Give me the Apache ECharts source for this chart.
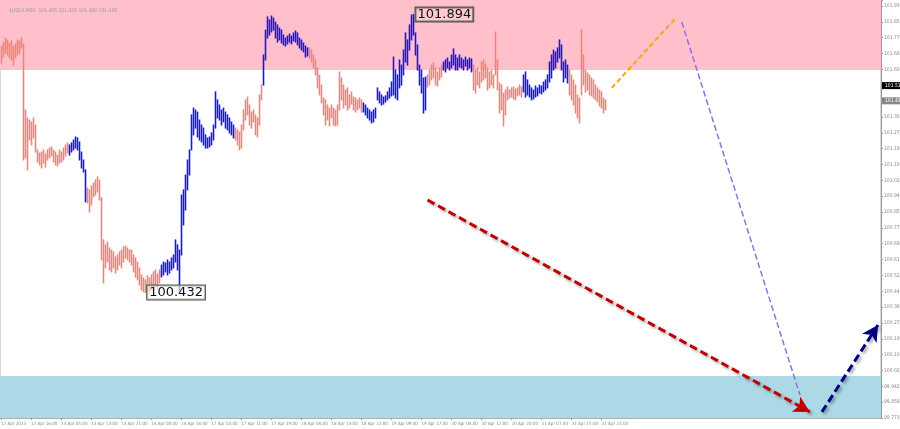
<!DOCTYPE html>
<html>
<head>
<meta charset="utf-8">
<script src="https://cdn.jsdelivr.net/npm/echarts@6/dist/echarts.min.js"></script>
<style>
  html, body { margin: 0; padding: 0; background: #fff; }
  #chart { width: 900px; height: 429px; }
</style>
</head>
<body>
<div id="chart"></div>
<script>
// time labels, one every 15 bars
const timeLabels = ['12 Apr 2023', '12 Apr 16:00', '13 Apr 05:00', '13 Apr 13:00', '13 Apr 21:00',
  '14 Apr 08:00', '14 Apr 16:00', '17 Apr 03:00', '17 Apr 11:00', '17 Apr 19:00', '18 Apr 06:00',
  '18 Apr 14:00', '18 Apr 22:00', '19 Apr 09:00', '19 Apr 17:00', '20 Apr 04:00', '20 Apr 12:00',
  '20 Apr 20:00', '21 Apr 07:00', '21 Apr 15:00', '21 Apr 23:00'];

// price scale labels, bottom to top
const priceLabels = ['99.773', '99.858', '99.942', '100.023', '100.108', '100.193', '100.278', '100.363',
  '100.443', '100.528', '100.613', '100.693', '100.778', '100.858', '100.943', '101.028', '101.108',
  '101.193', '101.273', '101.358', '101.438', '101.523', '101.608', '101.688', '101.773', '101.858', '101.938'];

// bar highs / lows (M30)
const highs = [
  101.728, 101.749, 101.770, 101.760, 101.744, 101.755, 101.728, 101.739, 101.760, 101.755,
  101.770, 101.739, 101.392, 101.350, 101.339, 101.329, 101.350, 101.313, 101.182, 101.166,
  101.171, 101.182, 101.161, 101.182, 101.192, 101.198, 101.182, 101.171, 101.155, 101.182,
  101.171, 101.192, 101.208, 101.219, 101.208, 101.219, 101.234, 101.250, 101.245, 101.224,
  101.171, 101.129, 101.077, 100.982, 100.972, 100.993, 101.008, 101.024, 101.040, 101.024,
  100.930, 100.709, 100.683, 100.698, 100.667, 100.656, 100.646, 100.620, 100.630, 100.646,
  100.656, 100.672, 100.677, 100.667, 100.656, 100.656, 100.630, 100.614, 100.593, 100.562,
  100.525, 100.509, 100.499, 100.520, 100.509, 100.525, 100.541, 100.551, 100.530, 100.551,
  100.577, 100.593, 100.588, 100.604, 100.593, 100.614, 100.630, 100.709, 100.683, 100.656,
  100.945, 100.972, 101.050, 101.129, 101.182, 101.366, 101.402, 101.392, 101.381, 101.339,
  101.313, 101.297, 101.261, 101.245, 101.250, 101.271, 101.313, 101.487, 101.445, 101.418,
  101.392, 101.402, 101.381, 101.366, 101.350, 101.329, 101.313, 101.297, 101.287, 101.276,
  101.313, 101.392, 101.445, 101.460, 101.418, 101.381, 101.392, 101.366, 101.350, 101.471,
  101.523, 101.681, 101.812, 101.881, 101.865, 101.886, 101.875, 101.854, 101.839, 101.823,
  101.812, 101.786, 101.770, 101.781, 101.791, 101.781, 101.797, 101.807, 101.797, 101.770,
  101.760, 101.744, 101.728, 101.718, 101.718, 101.707, 101.681, 101.655, 101.613, 101.576,
  101.523, 101.455, 101.445, 101.418, 101.402, 101.418, 101.402, 101.392, 101.418, 101.592,
  101.560, 101.523, 101.497, 101.508, 101.471, 101.487, 101.460, 101.455, 101.445, 101.455,
  101.445, 101.429, 101.418, 101.402, 101.392, 101.381, 101.392, 101.402, 101.508, 101.487,
  101.471, 101.460, 101.466, 101.487, 101.508, 101.539, 101.670, 101.602, 101.576, 101.655,
  101.628, 101.707, 101.797, 101.760, 101.839, 101.891, 101.894, 101.797, 101.734, 101.628,
  101.602, 101.560, 101.565, 101.576, 101.602, 101.628, 101.639, 101.613, 101.592, 101.613,
  101.628, 101.644, 101.655, 101.665, 101.644, 101.681, 101.713, 101.681, 101.665, 101.681,
  101.665, 101.655, 101.670, 101.655, 101.665, 101.660, 101.628, 101.602, 101.613, 101.592,
  101.644, 101.655, 101.634, 101.613, 101.592, 101.602, 101.576, 101.802, 101.655, 101.534,
  101.523, 101.481, 101.497, 101.513, 101.497, 101.508, 101.513, 101.502, 101.508, 101.523,
  101.513, 101.576, 101.592, 101.550, 101.523, 101.508, 101.497, 101.518, 101.508, 101.523,
  101.518, 101.539, 101.550, 101.576, 101.644, 101.681, 101.707, 101.697, 101.718, 101.760,
  101.734, 101.644, 101.655, 101.628, 101.602, 101.576, 101.550, 101.523, 101.471, 101.455,
  101.812, 101.681, 101.602, 101.586, 101.576, 101.560, 101.550, 101.523, 101.508, 101.497,
  101.487, 101.455, 101.445
];
const lows = [
  101.639, 101.670, 101.691, 101.681, 101.665, 101.655, 101.628, 101.665, 101.681, 101.691,
  101.718, 101.129, 101.140, 101.077, 101.234, 101.208, 101.245, 101.171, 101.119, 101.103,
  101.087, 101.113, 101.092, 101.129, 101.140, 101.150, 101.119, 101.103, 101.098, 101.113,
  101.119, 101.129, 101.150, 101.166, 101.155, 101.171, 101.182, 101.192, 101.182, 101.129,
  101.087, 101.066, 100.909, 100.903, 100.856, 100.893, 100.935, 100.945, 100.961, 100.919,
  100.604, 100.483, 100.562, 100.593, 100.551, 100.541, 100.562, 100.535, 100.551, 100.577,
  100.562, 100.593, 100.614, 100.604, 100.593, 100.577, 100.541, 100.514, 100.499, 100.472,
  100.446, 100.436, 100.432, 100.441, 100.436, 100.446, 100.457, 100.472, 100.451, 100.483,
  100.514, 100.525, 100.541, 100.525, 100.535, 100.551, 100.562, 100.593, 100.551, 100.440,
  100.630, 100.788, 100.866, 100.972, 101.050, 101.182, 101.261, 101.297, 101.250, 101.234,
  101.224, 101.208, 101.192, 101.192, 101.198, 101.208, 101.234, 101.297, 101.350, 101.339,
  101.313, 101.329, 101.297, 101.287, 101.271, 101.261, 101.245, 101.234, 101.208, 101.182,
  101.192, 101.287, 101.339, 101.366, 101.313, 101.297, 101.329, 101.261, 101.250, 101.313,
  101.445, 101.523, 101.655, 101.770, 101.786, 101.802, 101.812, 101.770, 101.749, 101.760,
  101.744, 101.734, 101.728, 101.739, 101.749, 101.739, 101.755, 101.749, 101.734, 101.718,
  101.707, 101.697, 101.670, 101.676, 101.665, 101.644, 101.613, 101.576, 101.508, 101.471,
  101.429, 101.366, 101.313, 101.339, 101.308, 101.350, 101.313, 101.308, 101.313, 101.392,
  101.445, 101.402, 101.418, 101.392, 101.402, 101.423, 101.392, 101.381, 101.392, 101.402,
  101.381, 101.381, 101.366, 101.350, 101.339, 101.324, 101.329, 101.350, 101.445, 101.429,
  101.418, 101.423, 101.434, 101.445, 101.455, 101.466, 101.471, 101.455, 101.445, 101.508,
  101.523, 101.576, 101.644, 101.628, 101.707, 101.760, 101.786, 101.681, 101.602, 101.523,
  101.481, 101.376, 101.392, 101.513, 101.523, 101.550, 101.560, 101.523, 101.518, 101.550,
  101.565, 101.602, 101.592, 101.613, 101.602, 101.613, 101.628, 101.602, 101.602, 101.618,
  101.613, 101.602, 101.623, 101.602, 101.613, 101.592, 101.497, 101.481, 101.523, 101.508,
  101.539, 101.550, 101.560, 101.497, 101.508, 101.523, 101.508, 101.576, 101.497, 101.376,
  101.392, 101.308, 101.366, 101.445, 101.455, 101.460, 101.450, 101.445, 101.466, 101.471,
  101.460, 101.487, 101.460, 101.471, 101.460, 101.445, 101.450, 101.460, 101.466, 101.481,
  101.476, 101.487, 101.497, 101.508, 101.539, 101.560, 101.602, 101.613, 101.644, 101.665,
  101.602, 101.539, 101.560, 101.534, 101.471, 101.445, 101.418, 101.376, 101.350, 101.324,
  101.471, 101.523, 101.487, 101.497, 101.471, 101.466, 101.455, 101.445, 101.434, 101.413,
  101.402, 101.376, 101.392
];
// last bar index of each wave, waves alternate down / up starting with down
const waveEnds = [33, 42, 79, 116, 130, 153, 180, 212, 220, 235, 260, 283, 302];

// zones
const resistanceZone = [101.602, 101.970];
const supportZone = [99.773, 99.994];

// forecast lines: [bar, price] start and end
const pathUp = [[305, 101.508], [337, 101.875]];
const pathDown = [[340, 101.854], [399, 99.894]];
const mainDown = [[213, 100.919], [404, 99.805]];
const nextUp = [[410, 99.805], [438, 100.262]];

const extremeHigh = [206, 101.894];
const extremeLow = [72, 100.432];
const markPrices = [101.515, 101.438];

const totalBars = 440;
const yMin = 99.773, yMax = 101.970;
const yStep = yMin / 1198;

const downColor = '#FA8072';
const upColor = '#1414FF';
const smallFont = '"Liberation Sans Narrow", "DejaVu Sans Condensed", "Liberation Sans", sans-serif';

const categories = Array.from({ length: totalBars }, (_, i) => String(i));

// split bars into down-wave and up-wave series: [bar, low, high]
const downBars = [], upBars = [];
highs.forEach((h, i) => {
  const wave = waveEnds.findIndex(e => i <= e);
  (wave % 2 === 0 ? downBars : upBars).push([i, lows[i], h]);
});

function barSeries(name, data, color) {
  return {
    name: name,
    type: 'custom',
    data: data,
    z: 3,
    silent: true,
    encode: { x: 0, y: [1, 2] },
    renderItem: function (params, api) {
      const lo = api.coord([api.value(0), api.value(1)]);
      const hi = api.coord([api.value(0), api.value(2)]);
      const x = Math.floor(lo[0]) + 0.5;
      return {
        type: 'line',
        shape: { x1: x, y1: lo[1] + 0.5, x2: x, y2: hi[1] - 0.5 },
        style: { stroke: color, lineWidth: 1.6 }
      };
    }
  };
}

function arrowLine(pts, color, width, dash, arrow, shadow) {
  return [
    { coord: pts[0], symbol: 'none' },
    {
      coord: pts[1],
      symbol: arrow ? 'arrow' : 'none',
      symbolSize: [13, 16],
      lineStyle: {
        color: color, width: width, type: dash,
        shadowColor: shadow ? 'rgba(0,0,0,0.35)' : 'transparent',
        shadowBlur: shadow ? 3 : 0, shadowOffsetX: 2, shadowOffsetY: 2
      },
      itemStyle: { color: color }
    }
  ];
}

function priceTag(value, bg) {
  return {
    yAxis: value,
    label: {
      position: 'end', distance: 1, formatter: value.toFixed(3),
      fontSize: 5, color: '#fff', backgroundColor: bg, padding: [1, 3], fontFamily: smallFont
    }
  };
}

function extremeTag(pt, bg) {
  return {
    coord: pt,
    label: {
      show: true, position: 'right', distance: 2, formatter: pt[1].toFixed(3),
      fontSize: 13, color: '#111', fontFamily: 'DejaVu Sans',
      borderColor: '#555', borderWidth: 1, padding: [1, 2, 0, 2],
      backgroundColor: bg
    }
  };
}

const chart = echarts.init(document.getElementById('chart'), null, { renderer: 'canvas' });

const labelEvery = (idx) => idx % 15 === 0 && idx / 15 < timeLabels.length;

const option = {
  animation: false,
  title: {
    text: '$USDX,M30  101.485 101.435 101.480 101.438',
    left: 4, top: 3,
    textStyle: { fontSize: 5, fontWeight: 'normal', color: '#999', fontFamily: smallFont }
  },
  grid: {
    left: 0, right: 19, top: 0, bottom: 11,
    outerBoundsMode: 'none',
    containLabel: false,
    show: true, borderColor: '#b0b0b0', borderWidth: 1
  },
  xAxis: {
    type: 'category',
    data: categories,
    boundaryGap: true,
    axisLine: { show: true, lineStyle: { color: '#b0b0b0' } },
    axisTick: {
      show: true, length: 2, inside: false, alignWithLabel: true,
      interval: labelEvery,
      lineStyle: { color: '#999' }
    },
    axisLabel: {
      show: true, fontSize: 4.5, color: '#888', fontFamily: smallFont,
      align: 'left', margin: 3, showMinLabel: true,
      interval: labelEvery,
      formatter: (v, idx) => timeLabels[idx / 15] || ''
    },
    splitLine: { show: false }
  },
  yAxis: {
    type: 'value',
    position: 'right',
    min: yMin, max: yMax, interval: yStep,
    scale: true,
    axisLine: { show: true, lineStyle: { color: '#999' } },
    axisTick: { show: true, length: 2, lineStyle: { color: '#999' } },
    axisLabel: {
      fontSize: 5, color: '#888', fontFamily: smallFont, margin: 3,
      formatter: (v) => {
        const k = Math.round((v - yMin) / yStep);
        if (Math.abs(v - (yMin + k * yStep)) > yStep * 0.2) return '';
        return priceLabels[k] || '';
      }
    },
    splitLine: { show: false }
  },
  series: [
    {
      name: 'zones',
      type: 'line',
      data: [],
      z: 1,
      silent: true,
      markArea: {
        silent: true,
        data: [
          [{ yAxis: resistanceZone[0], itemStyle: { color: '#FFC0CB' } }, { yAxis: resistanceZone[1] }],
          [{ yAxis: supportZone[0], itemStyle: { color: '#ADD8E6' } }, { yAxis: supportZone[1] }]
        ]
      }
    },
    barSeries('down', downBars, downColor),
    barSeries('up', upBars, upColor),
    {
      name: 'notes',
      type: 'line',
      data: [],
      z: 4,
      silent: true,
      markPoint: {
        symbol: 'circle', symbolSize: 0,
        data: [
          extremeTag(extremeHigh, 'rgba(255,255,255,0.15)'),
          extremeTag(extremeLow, 'rgba(255,255,255,0.6)')
        ]
      },
      markLine: {
        silent: true,
        label: { show: false },
        data: [
          arrowLine(pathUp, '#FFA500', 2, [5, 3], false, false),
          arrowLine(pathDown, '#9370DB', 1.5, [6, 3], false, false),
          arrowLine(mainDown, '#C00000', 3, [8, 4], true, true),
          arrowLine(nextUp, '#000080', 3, [8, 4], true, true)
        ]
      }
    },
    {
      name: 'tags',
      type: 'line',
      data: [],
      z: 5,
      silent: true,
      markLine: {
        silent: true,
        symbol: 'none',
        lineStyle: { color: 'transparent', width: 0 },
        label: { show: true },
        data: [priceTag(markPrices[0], '#000'), priceTag(markPrices[1], '#888')]
      }
    }
  ]
};

chart.setOption(option);
window.addEventListener('resize', function () {
  chart.resize();
});
</script>
</body>
</html>
